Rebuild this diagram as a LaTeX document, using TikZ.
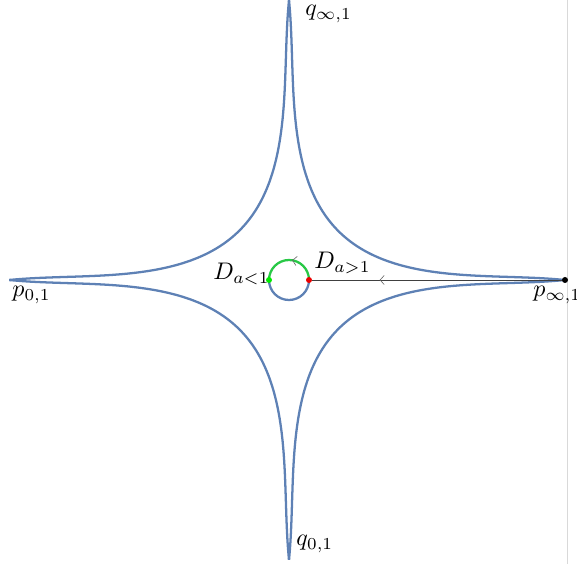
\documentclass[tikz,border=0pt]{standalone}
\usetikzlibrary{arrows.meta,decorations.markings}
\definecolor{curveblue}{RGB}{94,129,181}
\definecolor{arcgreen}{RGB}{40,200,70}
\definecolor{dotgreen}{RGB}{0,235,0}
\definecolor{dotred}{RGB}{235,0,0}
\begin{document}
\begin{tikzpicture}[x=0.4167pt,y=-0.4167pt,
  curve/.style={draw=curveblue,line width=0.95pt},
  lab/.style={anchor=base west,inner sep=0pt},
  dotnode/.style={circle,inner sep=0pt,minimum size=2.5pt},
  conn/.style={draw=black!75,line width=0.38pt},
  midarrow/.style={postaction={decorate},decoration={markings,
    mark=at position #1 with {\arrow[black!60,line width=0.25pt]{Straight Barb[length=1.7pt,width=3.8pt]}}}}
]
\useasboundingbox (0,0) rectangle (577,564);
% light vertical rule
\coordinate (rtop) at (567,0);
\coordinate (rbot) at (567,564);
\draw[black!15,line width=0.33pt] (rtop) -- (rbot);
% four curves
\foreach \sx/\sy/\R in {1/1/276,1/-1/276,-1/1/280,-1/-1/280}{
  \draw[curve] plot[domain=0:90,samples=240,variable=\t]
    ({289+\sx*\R*(pow(cos(\t),5)+0.25*pow(cos(\t),2)*pow(sin(\t),20))},
     {280+\sy*280*(pow(sin(\t),5)+0.25*pow(sin(\t),2)*pow(cos(\t),20))});
}
% small circle
\coordinate (cc) at (289,280);
\draw[curve] (309,280) arc[start angle=0,end angle=180,radius=20];
\draw[draw=arcgreen,line width=0.95pt,midarrow=0.45] (309,280) arc[start angle=0,end angle=-180,radius=20];
% dots
\node[dotnode,fill=dotred] (red) at (309,280) {};
\node[dotnode,fill=dotgreen] (green) at (269,280) {};
\node[dotnode,fill=black] (pinf) at (565,280) {};
% connector
\draw[conn,midarrow=0.73] (pinf) -- (red);
% labels
\node[lab] (lq1) at (305,16) {$q_{\infty,1}$};
\node[lab] (lp0) at (12,297) {$p_{0,1}$};
\node[lab] (lpi) at (533,297) {$p_{\infty,1}$};
\node[lab] (lq0) at (296,546) {$q_{0,1}$};
\node[lab] (lda) at (213,280) {$D_{a<1}$};
\node[lab] (ldb) at (314,269) {$D_{a>1}$};
\end{tikzpicture}
\end{document}
